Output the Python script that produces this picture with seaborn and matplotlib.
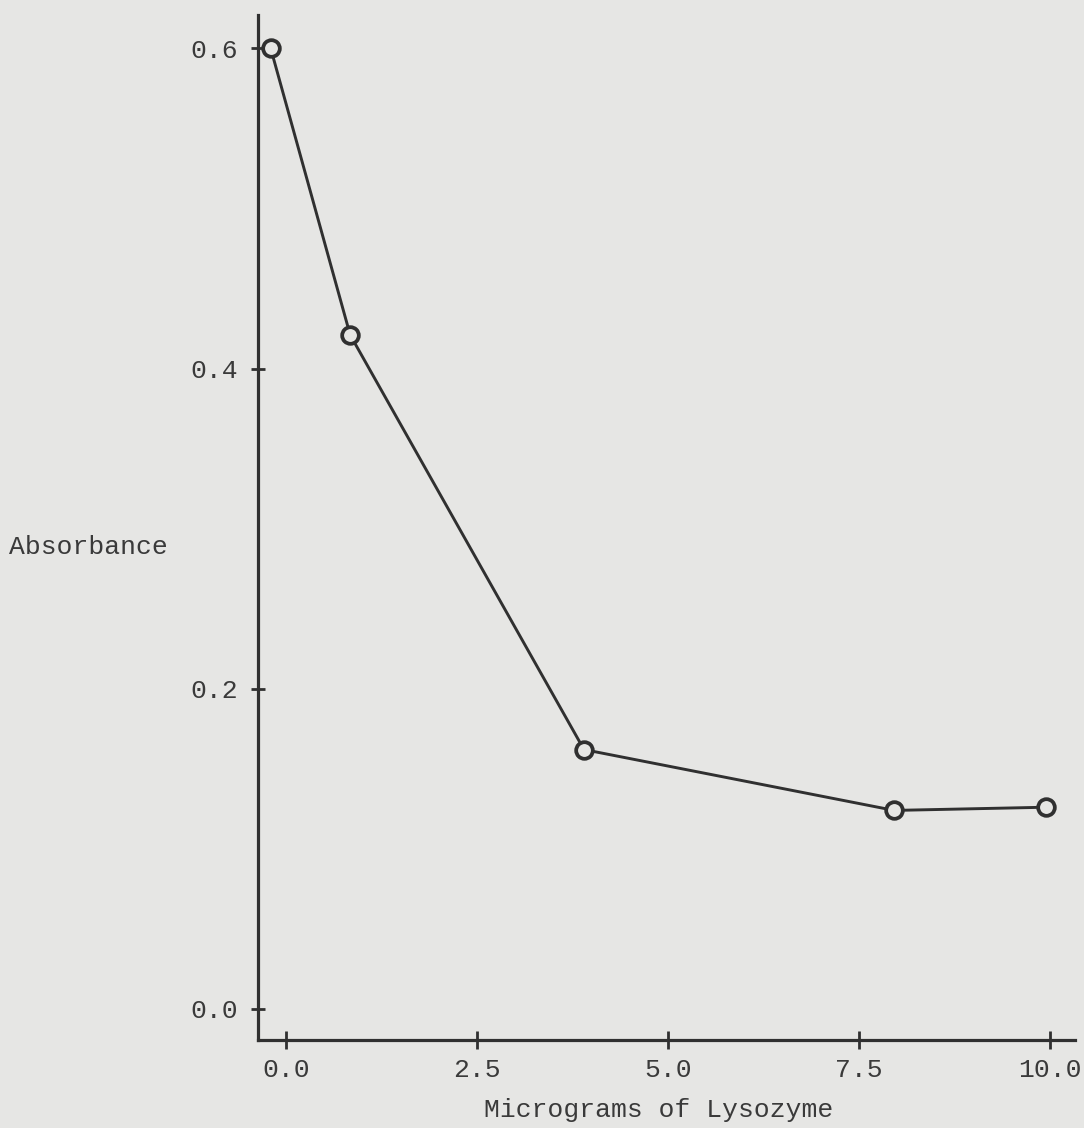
import matplotlib

matplotlib.use("Agg")

import matplotlib.pyplot as plt
import pandas as pd
import seaborn as sns


# values
lysozyme_ug = [-0.2, 0.84, 3.9, 7.96, 9.95]
absorbance = [0.600, 0.421, 0.162, 0.124, 0.126]

x_ticks = [0.0, 2.5, 5.0, 7.5, 10.0]
y_ticks = [0.0, 0.2, 0.4, 0.6]

PAPER = "#e6e6e4"
INK = "#303030"
TEXT = "#3a3a3a"

sns.set_style("ticks")
plt.rcParams["font.family"] = ["Liberation Mono", "DejaVu Sans Mono"]

df = pd.DataFrame({"Micrograms": lysozyme_ug, "Absorbance": absorbance})

fig = plt.figure(figsize=(10.84, 11.28), dpi=100, facecolor=PAPER)
ax = fig.add_axes([0.238, 0.078, 0.754, 0.909])
ax.set_facecolor(PAPER)

sns.lineplot(
    data=df,
    x="Micrograms",
    y="Absorbance",
    sort=False,
    color=INK,
    linewidth=2.1,
    marker="o",
    markersize=12,
    markerfacecolor=PAPER,
    markeredgecolor=INK,
    markeredgewidth=2.7,
    ax=ax,
)

ax.set_xlim(-0.366, 10.33)
ax.set_ylim(-0.0194, 0.621)
ax.set_xticks(x_ticks)
ax.set_yticks(y_ticks)
ax.set_xticklabels([f"{v:.1f}" for v in x_ticks])
ax.set_yticklabels([f"{v:.1f}" for v in y_ticks])

for side in ["top", "right"]:
    ax.spines[side].set_visible(False)
for side in ["left", "bottom"]:
    ax.spines[side].set_color(INK)
    ax.spines[side].set_linewidth(2.3)

ax.tick_params(axis="y", direction="inout", length=10, width=2, color=INK,
               pad=9.5, labelsize=19, labelcolor=TEXT)
ax.tick_params(axis="x", direction="inout", length=13, width=2, color=INK,
               pad=6.5, labelsize=19, labelcolor=TEXT)

ax.set_xlabel("Micrograms of Lysozyme", fontsize=19, color=TEXT, va="center")
ax.set_ylabel("Absorbance", fontsize=19, color=TEXT, rotation=0,
              ha="center", va="center")
ax.xaxis.set_label_coords(0.49, -0.068)
ax.yaxis.set_label_coords(-0.207, 0.481)

fig.savefig("out.png", dpi=100, facecolor=PAPER)
plt.close(fig)
